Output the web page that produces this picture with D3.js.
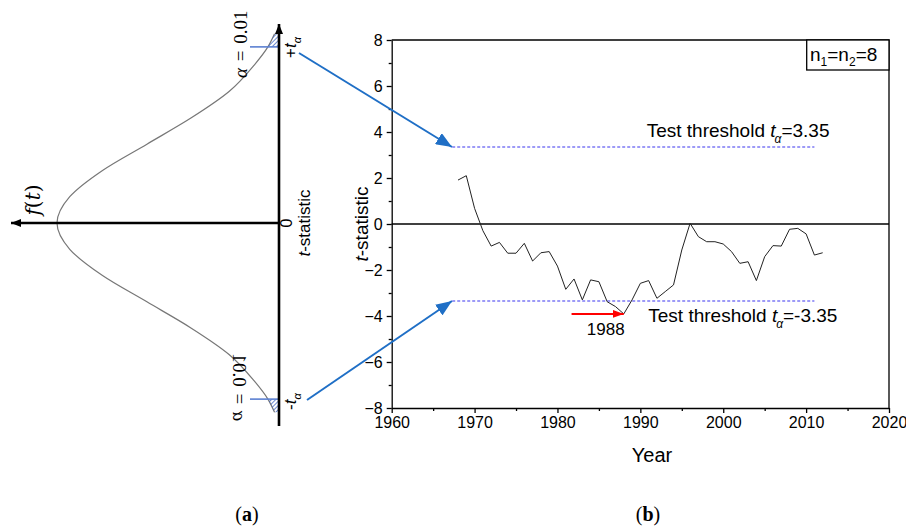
<!DOCTYPE html>
<html>
<head>
<meta charset="utf-8">
<script src="https://cdn.jsdelivr.net/npm/d3@7"></script>
<style>
body { margin: 0; background: #fff; }
text { font-family: "Liberation Sans", Arial, sans-serif; }
.serif { font-family: "DejaVu Serif", "Liberation Serif", serif; }
.cap { font-family: "Liberation Serif", serif; }
</style>
</head>
<body>
<svg id="chart" width="906" height="526"></svg>
<script>
// t-statistic series, one value per year 1968..2012
const startYear = 1968;
const tValues = [1.91, 2.10, 0.68, -0.29, -0.96, -0.80, -1.27, -1.27, -0.84, -1.61,
                 -1.25, -1.20, -1.83, -2.84, -2.39, -3.30, -2.43, -2.51, -3.38, -3.59,
                 -3.91, -3.30, -2.58, -2.46, -3.23, -2.94, -2.65, -1.13, 0.03, -0.55,
                 -0.77, -0.77, -0.87, -1.20, -1.71, -1.64, -2.46, -1.42, -0.94, -0.96,
                 -0.23, -0.19, -0.43, -1.35, -1.25];
const years = tValues.map((d, i) => startYear + i);

const threshold = 3.35;
const thresholdYears = [1967.3, 2011];
const markYear = 1988;
const markFrom = 1981.7;

const xTicks = [1960, 1970, 1980, 1990, 2000, 2010, 2020];
const xMinor = [1965, 1975, 1985, 1995, 2005, 2015];
const yTicks = [-8, -6, -4, -2, 0, 2, 4, 6, 8];
const yMinor = [-7, -5, -3, -1, 1, 3, 5, 7];

// density sketch for panel (a) (upper half, mirrored)
const curveT = [0, 0.5, 1, 1.5, 2, 2.5, 3, 3.35, 3.6];
const curveF = [0.4, 0.377, 0.318, 0.238, 0.158, 0.09, 0.045, 0.02, 0.008];

const svg = d3.select("#chart");
const blue = "#1f6fc6";
const dashCol = "#7d7af5";

// ---------- panel (b) ----------
const x = d3.scaleLinear().domain([1960, 2020]).range([391.7, 889]);
const y = d3.scaleLinear().domain([-8, 8]).range([408, 40]);

const gx = svg.append("g").attr("transform", "translate(0,408)");
gx.call(d3.axisBottom(x).tickValues(xTicks).tickSize(5).tickSizeOuter(0).tickPadding(4).tickFormat(d3.format("d")));
gx.append("g").call(d3.axisBottom(x).tickValues(xMinor).tickSize(3).tickFormat(""))
  .select(".domain").remove();

const gy = svg.append("g").attr("transform", "translate(391.7,0)");
gy.call(d3.axisLeft(y).tickValues(yTicks).tickSize(5).tickSizeOuter(0).tickPadding(4));
gy.append("g").call(d3.axisLeft(y).tickValues(yMinor).tickSize(3).tickFormat(""))
  .select(".domain").remove();

svg.selectAll(".tick text").attr("font-size", 16).attr("fill", "#000")
  .style("font-family", "Liberation Sans, Arial, sans-serif");
svg.selectAll(".domain, .tick line").attr("stroke", "#000").attr("stroke-width", 1.3);

// frame top/right
svg.append("path")
  .attr("d", `M${x(1960)},${y(8)}H${x(2020)}V${y(-8)}`)
  .attr("fill", "none").attr("stroke", "#000").attr("stroke-width", 1.3);

// zero line
svg.append("line")
  .attr("x1", x(1960)).attr("x2", x(2020)).attr("y1", y(0)).attr("y2", y(0))
  .attr("stroke", "#000").attr("stroke-width", 1.3);

// threshold lines
[threshold, -threshold].forEach(v => {
  svg.append("line")
    .attr("x1", x(thresholdYears[0])).attr("x2", x(thresholdYears[1]))
    .attr("y1", y(v)).attr("y2", y(v))
    .attr("stroke", dashCol).attr("stroke-width", 1.4).attr("stroke-dasharray", "3,2");
});

// the series
svg.append("path")
  .datum(tValues)
  .attr("fill", "none").attr("stroke", "#222").attr("stroke-width", 1)
  .attr("d", d3.line().x((d, i) => x(years[i])).y(d => y(d)));

// n1=n2=8 box
svg.append("rect").attr("x", 806.7).attr("y", y(8)).attr("width", x(2020) - 806.7).attr("height", 30)
  .attr("fill", "#fff").attr("stroke", "#000").attr("stroke-width", 1.3);
const nt = svg.append("text").attr("x", 810).attr("y", 61).attr("font-size", 19);
nt.append("tspan").text("n");
nt.append("tspan").text("1").attr("font-size", 12).attr("dy", 5);
nt.append("tspan").text("=n").attr("dy", -5);
nt.append("tspan").text("2").attr("font-size", 12).attr("dy", 5);
nt.append("tspan").text("=8").attr("dy", -5);

function thresholdLabel(px, py, val) {
  const t = svg.append("text").attr("x", px).attr("y", py).attr("font-size", 19);
  t.append("tspan").text("Test threshold ");
  t.append("tspan").text("t").attr("font-style", "italic");
  t.append("tspan").text("α").attr("font-style", "italic").attr("font-size", 12).attr("dy", 6).attr("dx", -1);
  t.append("tspan").text("=" + val).attr("dy", -6);
}
thresholdLabel(646.7, y(threshold) - 10, "3.35");
thresholdLabel(648.3, y(-threshold) + 21, "-3.35");

// arrow heads
const defs = svg.append("defs");
function marker(id, color, w, h) {
  defs.append("marker").attr("id", id).attr("viewBox", `0 0 ${w} ${h}`)
    .attr("refX", w).attr("refY", h / 2).attr("markerWidth", w).attr("markerHeight", h)
    .attr("markerUnits", "userSpaceOnUse").attr("orient", "auto")
    .append("path").attr("d", `M0,0L${w},${h / 2}L0,${h}Z`).attr("fill", color);
}
marker("redHead", "#ff0000", 11, 8);
marker("blueHead", blue, 16, 13);
marker("blackHead", "#000", 10, 8);

// 1988 marker
const markY = y(tValues[years.indexOf(markYear)]);
svg.append("line")
  .attr("x1", x(markFrom)).attr("x2", x(markYear)).attr("y1", markY).attr("y2", markY)
  .attr("stroke", "#ff0000").attr("stroke-width", 2).attr("marker-end", "url(#redHead)");
svg.append("text").attr("x", x(markYear) - 18).attr("y", markY + 21)
  .attr("text-anchor", "middle").attr("font-size", 17).text(markYear);

// axis titles
const yt = svg.append("text").attr("transform", `translate(368,${y(0)}) rotate(-90)`)
  .attr("text-anchor", "middle").attr("font-size", 19);
yt.append("tspan").text("t").attr("font-style", "italic");
yt.append("tspan").text("-statistic");
svg.append("text").attr("x", 652).attr("y", 462).attr("text-anchor", "middle")
  .attr("font-size", 20).text("Year");

// ---------- panel (a) ----------
const axX = 279, tL = d3.scaleLinear().domain([-3.5, 3.5]).range([407, 39]);
const fL = d3.scaleLinear().domain([0, 0.4]).range([axX, 57]);

const pts = [];
for (let i = curveT.length - 1; i > 0; i--) pts.push([curveT[i], curveF[i]]);
curveT.forEach((t, i) => pts.push([-t, curveF[i]]));
pts.reverse();

svg.append("path").datum(pts)
  .attr("fill", "none").attr("stroke", "#777").attr("stroke-width", 1.2)
  .attr("d", d3.line().x(d => fL(d[1])).y(d => tL(d[0])).curve(d3.curveMonotoneY));

// hatched tails
defs.append("pattern").attr("id", "hatch").attr("width", 3).attr("height", 3)
  .attr("patternUnits", "userSpaceOnUse").attr("patternTransform", "rotate(45)")
  .append("line").attr("x1", 0).attr("y1", 0).attr("x2", 0).attr("y2", 3)
  .attr("stroke", "#3a62c0").attr("stroke-width", 1.5);
const tail = pts.filter(d => Math.abs(d[0]) >= threshold);
[1, -1].forEach(s => {
  const seg = tail.filter(d => Math.sign(d[0]) === s).sort((a, b) => a[0] - b[0]);
  svg.append("path").datum(seg).attr("fill", "url(#hatch)")
    .attr("d", d3.area().y(d => tL(d[0])).x0(axX).x1(d => fL(d[1])));
  svg.append("line").attr("x1", 250).attr("x2", axX)
    .attr("y1", tL(s * threshold)).attr("y2", tL(s * threshold))
    .attr("stroke", "#5b80d2").attr("stroke-width", 1.6);
});

// axes with arrows
svg.append("line").attr("x1", axX).attr("x2", axX).attr("y1", 426).attr("y2", 24)
  .attr("stroke", "#000").attr("stroke-width", 2.6).attr("marker-end", "url(#blackHead)");
svg.append("line").attr("x1", axX).attr("x2", 11).attr("y1", tL(0)).attr("y2", tL(0))
  .attr("stroke", "#000").attr("stroke-width", 2.6).attr("marker-end", "url(#blackHead)");

// alpha labels (lower one is a mirrored copy, as in the source figure)
function alphaLabel(tr) {
  const a = svg.append("text").attr("class", "cap").attr("transform", tr).attr("font-size", 19);
  a.append("tspan").text("α").attr("font-style", "italic");
  a.append("tspan").text(" = 0.01").attr("word-spacing", 2);
}
alphaLabel("translate(247,78) rotate(-90)");
alphaLabel("translate(233,421) scale(-1,1) rotate(-90)");

function tLabel(px, py, sign) {
  const t = svg.append("text").attr("transform", `translate(${px},${py}) rotate(-90)`).attr("font-size", 17);
  t.append("tspan").text(sign);
  t.append("tspan").text("t").attr("font-style", "italic");
  t.append("tspan").text("α").attr("font-style", "italic").attr("font-size", 11).attr("dy", 5);
}
tLabel(296, 58, "+");
tLabel(296, 410, "-");

svg.append("text").attr("transform", `translate(292,${tL(0)}) rotate(-90)`)
  .attr("text-anchor", "middle").attr("font-size", 16).text("0");
const lt = svg.append("text").attr("transform", `translate(310,${tL(0)}) rotate(-90)`)
  .attr("text-anchor", "middle").attr("font-size", 17);
lt.append("tspan").text("t").attr("font-style", "italic");
lt.append("tspan").text("-statistic");

const ft = svg.append("text").attr("class", "serif").attr("transform", "translate(40,200) rotate(-90)")
  .attr("text-anchor", "middle").attr("font-size", 20);
ft.append("tspan").text("f").attr("font-style", "italic");
ft.append("tspan").text("(");
ft.append("tspan").text("t").attr("font-style", "italic");
ft.append("tspan").text(")");

// blue connector arrows
svg.append("line").attr("x1", 299).attr("y1", 53).attr("x2", 452).attr("y2", 147)
  .attr("stroke", blue).attr("stroke-width", 2).attr("marker-end", "url(#blueHead)");
svg.append("line").attr("x1", 307).attr("y1", 400).attr("x2", 452).attr("y2", 301)
  .attr("stroke", blue).attr("stroke-width", 2).attr("marker-end", "url(#blueHead)");

// panel captions
[["a", 247], ["b", 648]].forEach(([k, cx]) => {
  const c = svg.append("text").attr("class", "cap").attr("x", cx).attr("y", 521)
    .attr("text-anchor", "middle").attr("font-size", 20);
  c.append("tspan").text("(");
  c.append("tspan").text(k).attr("font-weight", "bold");
  c.append("tspan").text(")");
});
</script>
</body>
</html>
